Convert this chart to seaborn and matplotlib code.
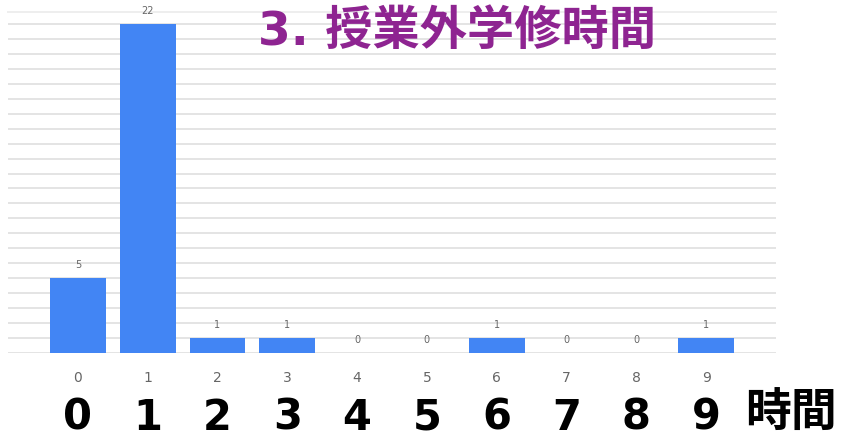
import matplotlib
matplotlib.use("Agg")
import matplotlib.pyplot as plt
import seaborn as sns
import pandas as pd

# Weekly study hours outside class: number of respondents per hour bucket
hours = ["0", "1", "2", "3", "4", "5", "6", "7", "8", "9"]
counts = [5, 22, 1, 1, 0, 0, 1, 0, 0, 1]
title_text = "3. 授業外学修時間"
unit_label = "時間"

df = pd.DataFrame({"hours": hours, "count": counts})

sns.set_theme(style="white")
plt.rcParams["font.family"] = ["DejaVu Sans", "Noto Sans CJK JP"]

fig = plt.figure(figsize=(8.44, 4.38), dpi=100)
ax = fig.add_axes([8 / 844, 1 - 353 / 438, (776 - 8) / 844, (353 - 12) / 438])

sns.barplot(data=df, x="hours", y="count", color="#4285F4", saturation=1,
            width=0.8, linewidth=0, ax=ax, zorder=3)

ax.set_xlim(-1.0, 10.0)
ax.set_ylim(0, 22.8)
ax.set_yticks(range(0, 23))
ax.yaxis.grid(True, color="#e4e4e4", linewidth=1.4, zorder=0)
ax.set_axisbelow(True)
ax.tick_params(axis="y", left=False, labelleft=False)
ax.tick_params(axis="x", bottom=False, labelsize=10, labelcolor="#666666", pad=7)
ax.set_xlabel("")
ax.set_ylabel("")
for side in ["left", "right", "bottom"]:
    ax.spines[side].set_visible(False)
ax.spines["top"].set_color("#eeeeee")
ax.spines["top"].set_linewidth(1.4)

# value labels above each bar
for i, c in enumerate(counts):
    ax.annotate(str(c), (i, c), xytext=(0, 6), textcoords="offset points",
                ha="center", va="bottom", fontsize=7, color="#666666")

# large hour labels below the axis
for i, h in enumerate(hours):
    ax.text(i, -0.19, h, transform=ax.get_xaxis_transform(), ha="center",
            va="center", fontsize=30, fontweight="bold", color="black",
            clip_on=False)
ax.text(9.56, -0.178, unit_label, transform=ax.get_xaxis_transform(),
        ha="left", va="center", fontsize=33, fontweight="bold", color="black",
        family=["Noto Sans CJK JP"], clip_on=False)

fig.text(258 / 844, 1 - 32 / 438, title_text, ha="left", va="center",
         fontsize=34, fontweight="bold", color="#8E2491")

fig.savefig("out.png", dpi=100, facecolor="white")
